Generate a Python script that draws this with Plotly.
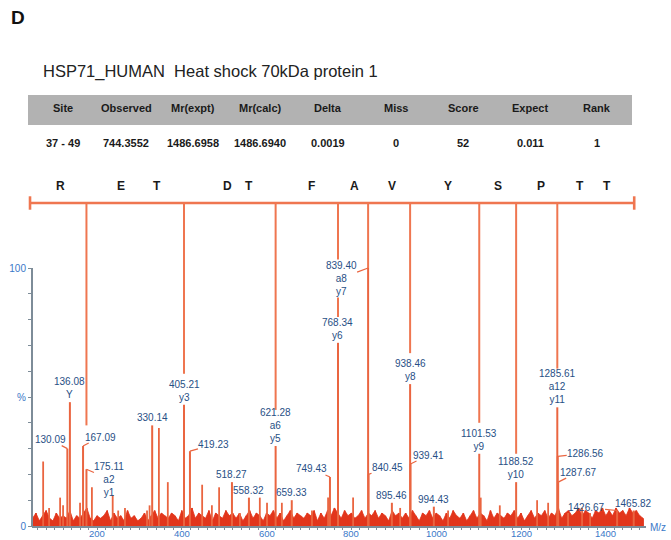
import plotly.graph_objects as go

W, H = 671, 540

# ---------------- data ----------------
panel_letter = "D"
title_text = "HSP71_HUMAN  Heat shock 70kDa protein 1"
table_cols = ["Site", "Observed", "Mr(expt)", "Mr(calc)", "Delta", "Miss", "Score", "Expect", "Rank"]
table_vals = ["37 - 49", "744.3552", "1486.6958", "1486.6940", "0.0019", "0", "52", "0.011", "1"]

seq_letters = ["R", "E", "T", "D", "T", "F", "A", "V", "Y", "S", "P", "T", "T"]
seq_mz = [115, 257, 341, 507, 558, 707, 808, 896, 1028, 1146, 1247, 1339, 1403]
ladder_bounds = [42, 1467]
ladder_mz = [175.11, 405.21, 621.28, 768.34, 839.40, 938.46, 1101.53, 1188.52, 1285.61]
ladder_end = [39, 59, 45, 81, 100, 67, 40, 28, 61]

label_mz = [130.09, 136.08, 167.09, 175.11, 330.14, 405.21, 419.23, 518.27, 558.32,
            621.28, 659.33, 749.43, 768.34, 839.40, 840.45, 895.46, 938.46, 939.41,
            994.43, 1101.53, 1188.52, 1285.61, 1286.56, 1287.67, 1426.67, 1465.82]
label_int = [30, 48, 31, 22, 39, 47, 29, 17, 11,
             31, 10, 19, 71, 100, 20, 9, 55, 24,
             7.5, 28, 17, 46, 27, 17, 6, 6]
label_ion = ["", "Y", "", "a2<br>y1", "", "y3", "", "", "",
             "a6<br>y5", "", "", "y6", "a8<br>y7", "", "", "y8", "",
             "", "y9", "y10", "a12<br>y11", "", "", "", ""]

minor_mz = [73, 87, 113, 120, 160, 188, 237, 250, 266, 318, 324, 346, 367, 448, 471,
            488, 537, 584, 601, 636, 707, 745, 804, 915, 1028, 1105, 1150, 1238, 1264,
            1311, 1344, 1363]
minor_int = [25, 7, 11, 8, 9, 15, 12, 6, 7, 6, 8, 38, 17, 16, 8,
             15, 5, 11, 9, 9, 6, 11, 11, 7, 6, 11, 8, 10, 9,
             5, 7, 5]

noise_mz = list(range(48, 1489, 8))
noise_int = [3, 5, 2, 4, 6, 3, 2, 5, 3, 4,
             3, 6, 2, 4, 3, 5, 7, 3, 2, 4,
             3, 4, 6, 2, 5, 3, 4, 2, 6, 3,
             4, 2, 3, 5, 2, 4, 6, 3, 5, 4,
             3, 5, 4, 2, 6, 3, 4, 7, 3, 5,
             4, 3, 6, 2, 5, 4, 3, 6, 4, 5,
             3, 5, 2, 4, 6, 3, 5, 4, 2, 5,
             4, 6, 3, 5, 2, 4, 6, 3, 5, 4,
             3, 5, 4, 6, 2, 5, 3, 6, 4, 7,
             5, 3, 6, 4, 5, 3, 4, 6, 3, 5,
             4, 6, 3, 5, 4, 2, 6, 4, 5, 3,
             5, 3, 6, 4, 2, 5, 4, 6, 3, 5,
             4, 2, 5, 3, 6, 4, 3, 5, 2, 4,
             6, 3, 5, 4, 2, 6, 3, 5, 4, 3,
             5, 4, 6, 3, 5, 2, 4, 6, 3, 5,
             4, 6, 3, 5, 4, 7, 3, 5, 6, 4,
             5, 7, 4, 6, 5, 3, 6, 5, 7, 4,
             6, 4, 7, 5, 6, 4, 7, 5, 6, 4,
             3]

x_tick_labels = [200, 400, 600, 800, 1000, 1200, 1400]
y_tick_labels = {0: "0", 50: "%", 100: "100"}

# ---------------- layout geometry (pixels) ----------------
X0, XS = 12.2, 0.424      # px = X0 + XS * mz
Y0, YS = 526.0, 2.58      # px = Y0 - YS * intensity


def xd(px):
    return (px - X0) / XS


def yd(py):
    return (Y0 - py) / YS


def px_paper_x(px):
    return px / W


def px_paper_y(py):
    return 1 - py / H


BAR_Y = yd(203)
LET_Y = yd(186)

label_offsets = {
    130.09: (-17, -9), 167.09: (17, -9), 175.11: (23, 10), 419.23: (24, -7),
    749.43: (-18, -8), 839.40: (-27, 10), 840.45: (19, -7), 939.41: (18, -9),
    1286.56: (28, -3), 1287.67: (20, -10), 1426.67: (-31, -3),
}

PEAK = "#ea6540"
NOISE = "#e2361c"
LADDER = "#ef7650"
LBL = "#284f85"
AXBLUE = "#3a78c8"
AXGRAY = "#7d8c98"
FONT = "Arial"


def sticks(xs, y_top):
    X, Y = [], []
    for i, x in enumerate(xs):
        X += [x, x, None]
        Y += [0, y_top[i], None]
    return X, Y


fig = go.Figure()

# noise floor
fig.add_trace(go.Scatter(x=noise_mz, y=noise_int, mode="lines", fill="tozeroy",
                         line=dict(color=NOISE, width=0.8), fillcolor=NOISE,
                         hoverinfo="skip", showlegend=False))
nx, ny = sticks(noise_mz, noise_int)
fig.add_trace(go.Scatter(x=nx, y=ny, mode="lines", line=dict(color=NOISE, width=1.6),
                         hoverinfo="skip", showlegend=False))
# minor peaks
mx, my = sticks(minor_mz, minor_int)
fig.add_trace(go.Scatter(x=mx, y=my, mode="lines", line=dict(color=PEAK, width=1.8),
                         hoverinfo="skip", showlegend=False))
# labelled peaks
lx, ly = sticks(label_mz, label_int)
fig.add_trace(go.Scatter(x=lx, y=ly, mode="lines", line=dict(color=PEAK, width=2),
                         hoverinfo="skip", showlegend=False))
# ladder connectors
cx, cy = [], []
for m, e in zip(ladder_mz, ladder_end):
    cx += [m, m, None]
    cy += [BAR_Y, e, None]
fig.add_trace(go.Scatter(x=cx, y=cy, mode="lines", line=dict(color=LADDER, width=2),
                         hoverinfo="skip", showlegend=False))
# sequence bar
fig.add_trace(go.Scatter(x=ladder_bounds, y=[BAR_Y, BAR_Y], mode="lines",
                         line=dict(color=LADDER, width=2.6), hoverinfo="skip", showlegend=False))

shapes = []
for b in ladder_bounds:
    shapes.append(dict(type="line", xref="x", yref="y", x0=b, x1=b,
                       y0=BAR_Y - 2.6, y1=BAR_Y + 2.6, line=dict(color=LADDER, width=2.6)))
# axis lines
shapes.append(dict(type="line", xref="x", yref="y", x0=xd(32), x1=xd(32), y0=0, y1=100,
                   line=dict(color=AXGRAY, width=2)))
shapes.append(dict(type="line", xref="x", yref="y", x0=xd(32), x1=xd(646), y0=yd(527), y1=yd(527),
                   line=dict(color=AXGRAY, width=2)))
# table header band
shapes.append(dict(type="rect", xref="paper", yref="paper",
                   x0=px_paper_x(28), x1=px_paper_x(632), y0=px_paper_y(125), y1=px_paper_y(95),
                   fillcolor="#b2b2b2", line=dict(width=0), layer="below"))

ann = []
ann.append(dict(text="<b>" + panel_letter + "</b>", xref="paper", yref="paper",
                x=px_paper_x(9), y=px_paper_y(18), xanchor="left", yanchor="middle",
                showarrow=False, font=dict(family=FONT, size=19, color="#111")))
ann.append(dict(text=title_text, xref="paper", yref="paper",
                x=px_paper_x(41), y=px_paper_y(72), xanchor="left", yanchor="middle",
                showarrow=False, font=dict(family=FONT, size=16.5, color="#222")))
col_px = [63, 126, 193, 260, 328, 396, 463, 530, 597]
for c, v, p in zip(table_cols, table_vals, col_px):
    ann.append(dict(text="<b>" + c + "</b>", xref="paper", yref="paper",
                    x=px_paper_x(p), y=px_paper_y(108), xanchor="center", yanchor="middle",
                    showarrow=False, font=dict(family=FONT, size=11, color="#1a1a1a")))
    ann.append(dict(text="<b>" + v + "</b>", xref="paper", yref="paper",
                    x=px_paper_x(p), y=px_paper_y(143), xanchor="center", yanchor="middle",
                    showarrow=False, font=dict(family=FONT, size=11, color="#1a1a1a")))
for L, m in zip(seq_letters, seq_mz):
    ann.append(dict(text="<b>" + L + "</b>", x=m, y=LET_Y, xref="x", yref="y",
                    showarrow=False, xanchor="center", yanchor="middle",
                    font=dict(family=FONT, size=12, color="#1a1a1a")))
for m, h, ion in zip(label_mz, label_int, label_ion):
    txt = f"{m:.2f}" + ("<br>" + ion if ion else "")
    base = dict(text=txt, x=m, y=h, xref="x", yref="y",
                font=dict(family=FONT, size=10, color=LBL))
    if m in label_offsets:
        ax, ay = label_offsets[m]
        base.update(showarrow=True, ax=ax, ay=ay, arrowhead=0, arrowwidth=1.2,
                    arrowcolor=PEAK, standoff=0, borderpad=0)
        if m == 839.40:
            base.update(bgcolor="white")
    else:
        base.update(showarrow=False, xanchor="center", yanchor="bottom", yshift=1, borderpad=0)
    ann.append(base)
ann.append(dict(text="M/z", xref="paper", yref="paper", x=px_paper_x(648), y=px_paper_y(527),
                xanchor="left", yanchor="middle", showarrow=False,
                font=dict(family=FONT, size=10, color=AXBLUE)))
# x tick labels (placed just inside the bottom edge)
for v in x_tick_labels:
    ann.append(dict(text=str(v), x=v, xref="x", yref="paper", y=0, yanchor="bottom",
                    xanchor="center", showarrow=False, borderpad=0,
                    font=dict(family=FONT, size=9.5, color=AXBLUE)))

xt = list(range(60, 1481, 20))
yt = list(range(0, 101, 10))
ytt = [y_tick_labels.get(v, "") for v in yt]

fig.update_layout(
    width=W, height=H, margin=dict(l=0, r=0, t=0, b=0, pad=0, autoexpand=False),
    paper_bgcolor="white", plot_bgcolor="white",
    showlegend=False, shapes=shapes, annotations=ann,
    xaxis=dict(domain=[0, 1], range=[xd(0), xd(W)], anchor="free", position=(H - 527) / H,
               automargin=False,
               showline=False, showgrid=False, zeroline=False, tickmode="array",
               tickvals=xt, ticktext=[""] * len(xt), ticks="outside", ticklen=2, tickwidth=1,
               tickcolor=AXGRAY),
    yaxis=dict(domain=[0, 1], range=[yd(H), yd(0)], anchor="free", position=32 / W,
               automargin=False,
               showline=False, showgrid=False, zeroline=False, tickmode="array",
               tickvals=yt, ticktext=ytt, ticks="outside", ticklen=4, tickwidth=1,
               tickcolor=AXGRAY, tickfont=dict(family=FONT, size=10, color=AXBLUE)),
)

fig.write_html("out.html")
